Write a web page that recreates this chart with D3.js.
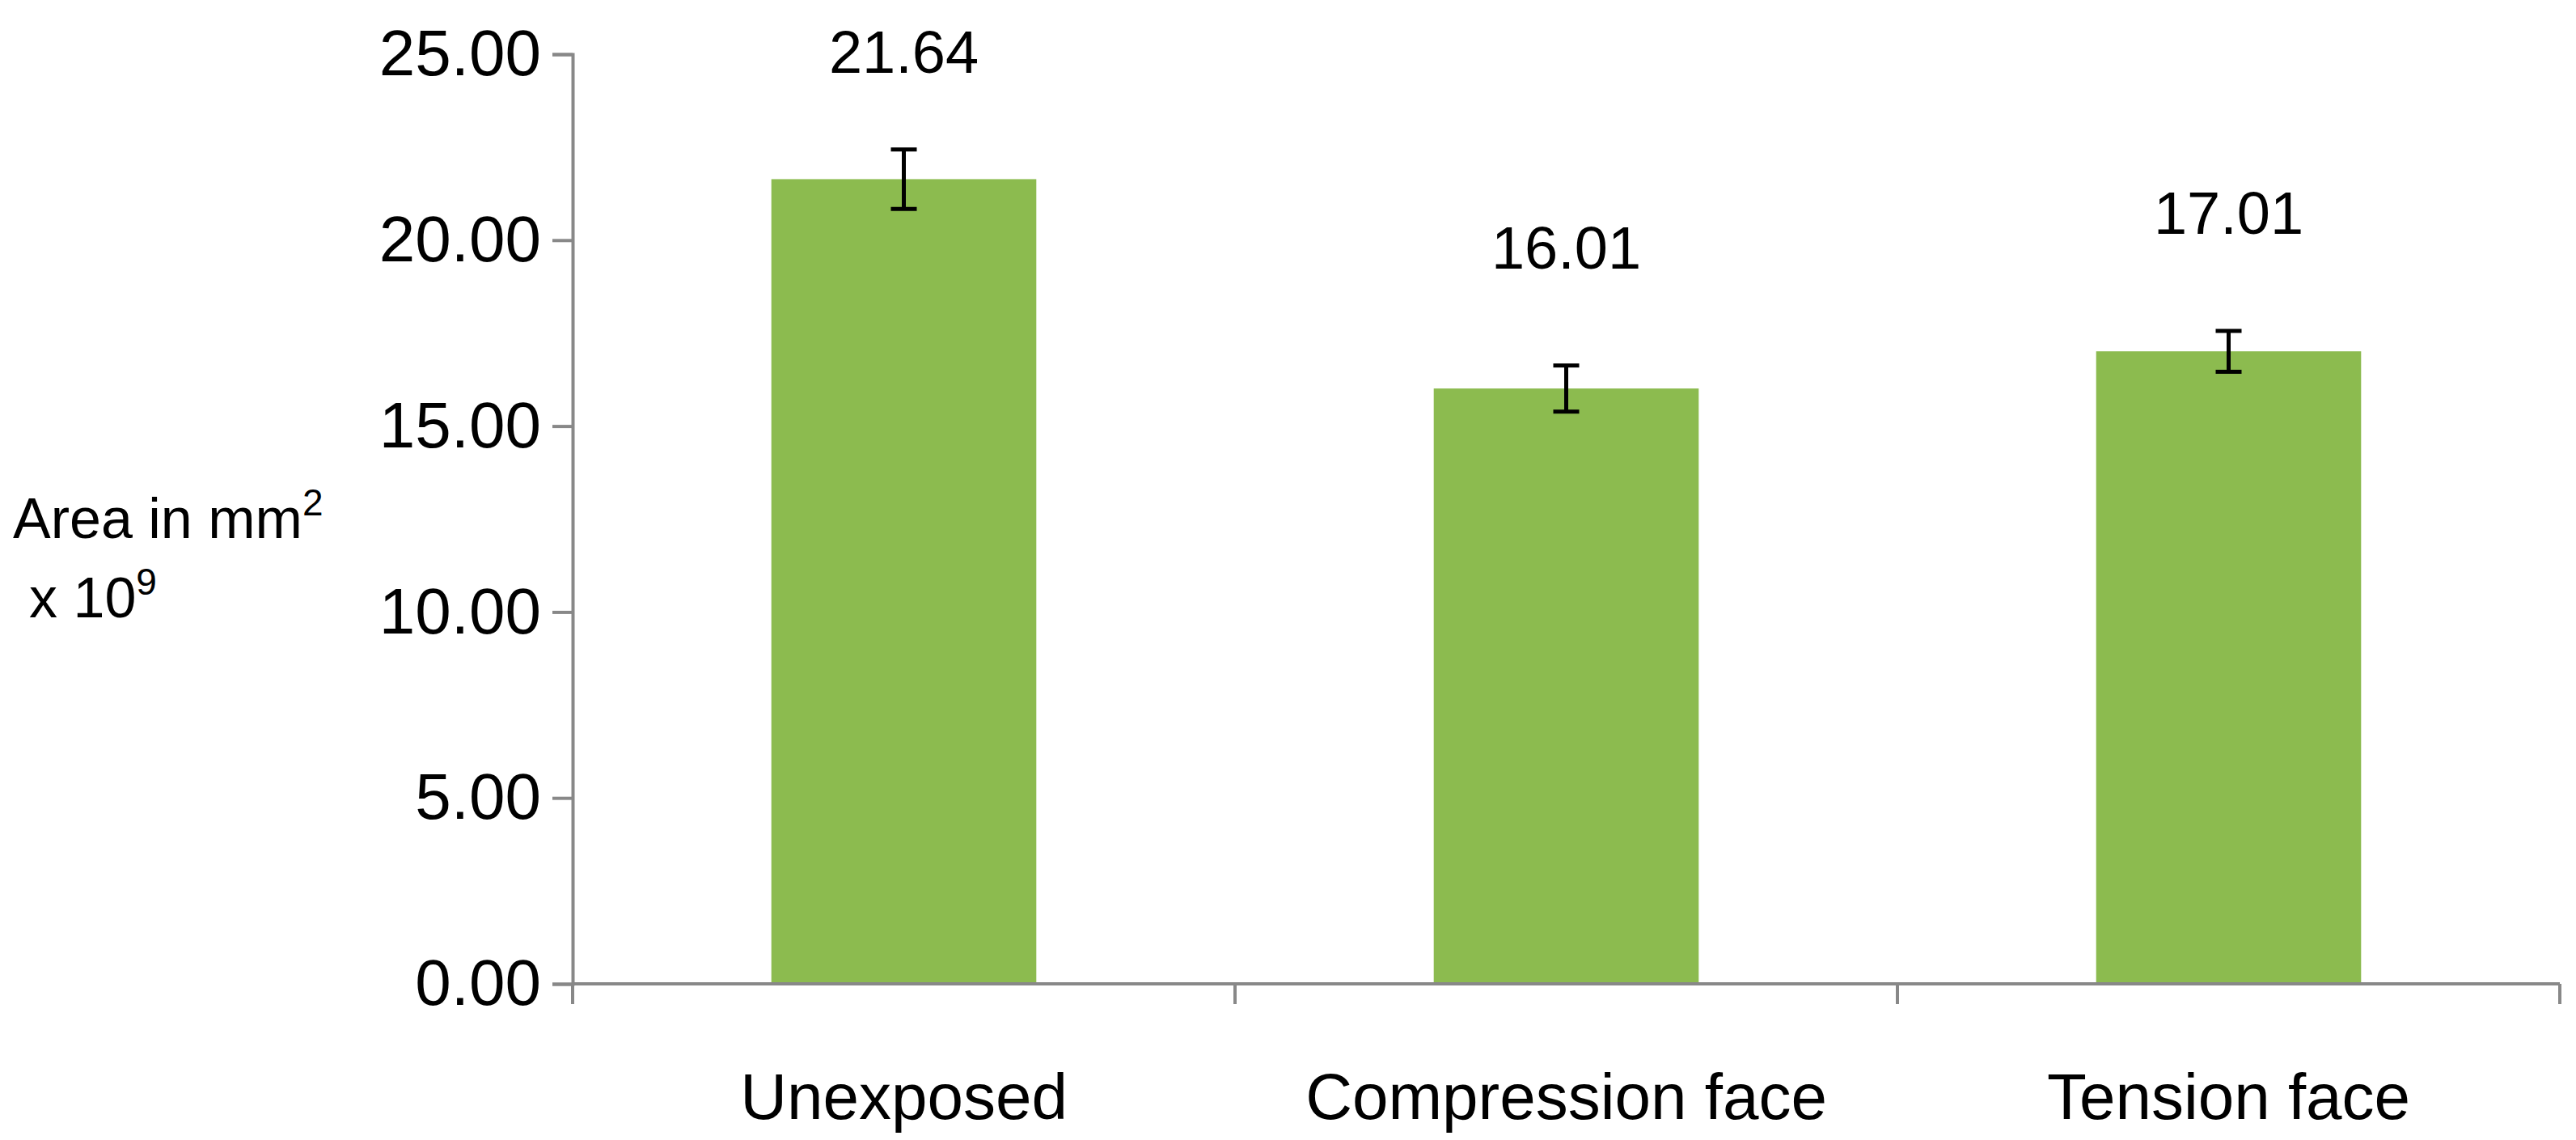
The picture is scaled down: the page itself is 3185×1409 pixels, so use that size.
<!DOCTYPE html>
<html>
<head>
<meta charset="utf-8">
<script src="https://cdn.jsdelivr.net/npm/d3@7"></script>
<style>
  body { margin: 0; background: #fff; }
  text { font-family: "Liberation Sans", Arial, sans-serif; fill: #000; }
</style>
</head>
<body>
<div id="chart"></div>
<script>
const categories = ['Unexposed', 'Compression face', 'Tension face'];
const values = [21.64, 16.01, 17.01];
const errors = [0.8, 0.62, 0.55];
const yTicks = [0, 5, 10, 15, 20, 25];

const w = 3185, h = 1409;
const mLeft = 708, mRight = 3165, mTop = 67, mBottom = 1216;

const svg = d3.select('#chart').append('svg')
  .attr('width', w).attr('height', h);

const x = d3.scaleBand().domain(categories).range([mLeft, mRight]).paddingInner(0.6).paddingOuter(0.3);
const y = d3.scaleLinear().domain([0, 25]).range([mBottom, mTop]);

// bars
svg.append('g').selectAll('rect')
  .data(values).enter().append('rect')
  .attr('x', (d, i) => x(categories[i]))
  .attr('y', d => y(d))
  .attr('width', x.bandwidth())
  .attr('height', d => mBottom - y(d))
  .attr('fill', '#8cbb4f');

// y axis
const yAxis = svg.append('g')
  .attr('transform', `translate(${mLeft},0)`)
  .call(d3.axisLeft(y).tickValues(yTicks).tickFormat(d3.format('.2f')).tickSize(25).tickPadding(14));
yAxis.selectAll('text').style('font-size', '80px');

// x axis
const xAxis = svg.append('g')
  .attr('transform', `translate(0,${mBottom})`)
  .call(d3.axisBottom(x).tickSize(0).tickPadding(110));
xAxis.select('.domain').remove();
xAxis.selectAll('text').style('font-size', '80px');

const grid = svg.append('g');
grid.append('line').attr('x1', mLeft).attr('x2', mRight).attr('y1', mBottom).attr('y2', mBottom);
const bounds = [mLeft].concat(categories.map(c => x(c) + x.bandwidth() + x.step() * x.paddingInner() / 2));
bounds[bounds.length - 1] = mRight;
grid.selectAll('line.tk').data(bounds).enter().append('line').attr('class', 'tk')
  .attr('x1', d => d).attr('x2', d => d).attr('y1', mBottom).attr('y2', mBottom + 25);

svg.selectAll('.domain, .tick line').attr('stroke', '#888').attr('stroke-width', 4);
grid.selectAll('line').attr('stroke', '#888').attr('stroke-width', 4);

// error bars
const eb = svg.append('g').attr('stroke', '#000').attr('stroke-width', 5);
values.forEach((v, i) => {
  const cx = x(categories[i]) + x.bandwidth() / 2;
  eb.append('line').attr('x1', cx).attr('x2', cx).attr('y1', y(v + errors[i])).attr('y2', y(v - errors[i]));
  eb.append('line').attr('x1', cx - 16).attr('x2', cx + 16).attr('y1', y(v + errors[i])).attr('y2', y(v + errors[i]));
  eb.append('line').attr('x1', cx - 16).attr('x2', cx + 16).attr('y1', y(v - errors[i])).attr('y2', y(v - errors[i]));
});

// value labels
svg.append('g').selectAll('text')
  .data(values).enter().append('text')
  .attr('x', (d, i) => x(categories[i]) + x.bandwidth() / 2)
  .attr('y', (d, i) => y(d + errors[i]) - 95 + (i > 0 ? -25 : 0))
  .attr('text-anchor', 'middle')
  .style('font-size', '74px')
  .text(d => d.toFixed(2));

// y title
const t1 = svg.append('text').attr('x', 16).attr('y', 665).style('font-size', '70px');
t1.append('tspan').text('Area in mm');
t1.append('tspan').attr('dy', -28).style('font-size', '46px').text('2');
const t2 = svg.append('text').attr('x', 36).attr('y', 763).style('font-size', '70px');
t2.append('tspan').text('x 10');
t2.append('tspan').attr('dy', -28).style('font-size', '46px').text('9');
</script>
</body>
</html>
